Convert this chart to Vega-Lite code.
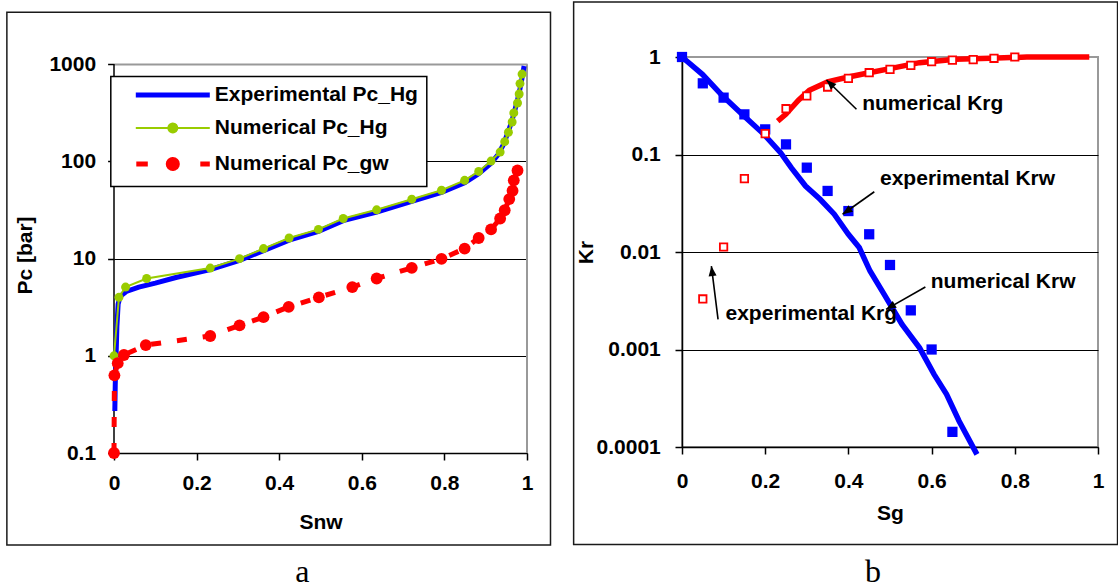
{
  "$schema": "https://vega.github.io/schema/vega-lite/v6.json",
  "background": "white",
  "padding": {"left": 6, "top": 0, "right": 0, "bottom": 0},
  "spacing": 19,
  "config": {
    "font": "Liberation Sans",
    "view": {"stroke": "#999999", "strokeWidth": 2},
    "axis": {
      "labelFont": "Liberation Sans", "labelFontSize": 21, "labelFontWeight": "bold", "labelColor": "#000000",
      "titleFont": "Liberation Sans", "titleFontSize": 21, "titleFontWeight": "bold", "titleColor": "#000000",
      "domainColor": "#000000", "domainWidth": 1.5, "tickColor": "#000000", "tickWidth": 1.5,
      "gridColor": "#000000", "gridWidth": 1, "gridOpacity": 1, "labelOverlap": false, "labelFlush": false
    }
  },
  "resolve": {"scale": {"color": "independent"}, "legend": {"color": "independent"}},
  "datasets": {
    "pc": [
      {"series": "Experimental Pc_Hg", "x": 0.002, "y": 0.27},
      {"series": "Experimental Pc_Hg", "x": 0.003, "y": 0.5},
      {"series": "Experimental Pc_Hg", "x": 0.005, "y": 1.0},
      {"series": "Experimental Pc_Hg", "x": 0.007, "y": 2.0},
      {"series": "Experimental Pc_Hg", "x": 0.01, "y": 3.4},
      {"series": "Experimental Pc_Hg", "x": 0.015, "y": 4.1},
      {"series": "Experimental Pc_Hg", "x": 0.03, "y": 4.6},
      {"series": "Experimental Pc_Hg", "x": 0.06, "y": 5.1},
      {"series": "Experimental Pc_Hg", "x": 0.1, "y": 5.6},
      {"series": "Experimental Pc_Hg", "x": 0.15, "y": 6.4},
      {"series": "Experimental Pc_Hg", "x": 0.233, "y": 7.7},
      {"series": "Experimental Pc_Hg", "x": 0.304, "y": 9.6},
      {"series": "Experimental Pc_Hg", "x": 0.362, "y": 12.1},
      {"series": "Experimental Pc_Hg", "x": 0.424, "y": 15.5},
      {"series": "Experimental Pc_Hg", "x": 0.495, "y": 19.1},
      {"series": "Experimental Pc_Hg", "x": 0.555, "y": 24.6},
      {"series": "Experimental Pc_Hg", "x": 0.636, "y": 30.2},
      {"series": "Experimental Pc_Hg", "x": 0.721, "y": 38.8},
      {"series": "Experimental Pc_Hg", "x": 0.793, "y": 48},
      {"series": "Experimental Pc_Hg", "x": 0.849, "y": 60.5},
      {"series": "Experimental Pc_Hg", "x": 0.883, "y": 75},
      {"series": "Experimental Pc_Hg", "x": 0.913, "y": 96},
      {"series": "Experimental Pc_Hg", "x": 0.93, "y": 118},
      {"series": "Experimental Pc_Hg", "x": 0.943, "y": 150},
      {"series": "Experimental Pc_Hg", "x": 0.953, "y": 195},
      {"series": "Experimental Pc_Hg", "x": 0.962, "y": 250},
      {"series": "Experimental Pc_Hg", "x": 0.97, "y": 330},
      {"series": "Experimental Pc_Hg", "x": 0.977, "y": 430},
      {"series": "Experimental Pc_Hg", "x": 0.983, "y": 560},
      {"series": "Experimental Pc_Hg", "x": 0.988, "y": 720},
      {"series": "Experimental Pc_Hg", "x": 0.993, "y": 960},
      {"series": "Numerical Pc_Hg", "x": 0, "y": 1.0},
      {"series": "Numerical Pc_Hg", "x": 0.012, "y": 4.0},
      {"series": "Numerical Pc_Hg", "x": 0.028, "y": 5.1},
      {"series": "Numerical Pc_Hg", "x": 0.079, "y": 6.25},
      {"series": "Numerical Pc_Hg", "x": 0.233, "y": 8.0},
      {"series": "Numerical Pc_Hg", "x": 0.304, "y": 10},
      {"series": "Numerical Pc_Hg", "x": 0.362, "y": 12.7},
      {"series": "Numerical Pc_Hg", "x": 0.424, "y": 16.3},
      {"series": "Numerical Pc_Hg", "x": 0.495, "y": 20},
      {"series": "Numerical Pc_Hg", "x": 0.555, "y": 25.9},
      {"series": "Numerical Pc_Hg", "x": 0.636, "y": 31.8},
      {"series": "Numerical Pc_Hg", "x": 0.721, "y": 40.9},
      {"series": "Numerical Pc_Hg", "x": 0.793, "y": 50.6},
      {"series": "Numerical Pc_Hg", "x": 0.849, "y": 64},
      {"series": "Numerical Pc_Hg", "x": 0.883, "y": 79},
      {"series": "Numerical Pc_Hg", "x": 0.913, "y": 101},
      {"series": "Numerical Pc_Hg", "x": 0.935, "y": 125},
      {"series": "Numerical Pc_Hg", "x": 0.946, "y": 160},
      {"series": "Numerical Pc_Hg", "x": 0.955, "y": 200},
      {"series": "Numerical Pc_Hg", "x": 0.964, "y": 255},
      {"series": "Numerical Pc_Hg", "x": 0.968, "y": 316},
      {"series": "Numerical Pc_Hg", "x": 0.977, "y": 400},
      {"series": "Numerical Pc_Hg", "x": 0.981, "y": 495},
      {"series": "Numerical Pc_Hg", "x": 0.983, "y": 633},
      {"series": "Numerical Pc_Hg", "x": 0.988, "y": 794},
      {"series": "Numerical Pc_gw", "x": 0, "y": 0.1},
      {"series": "Numerical Pc_gw", "x": 0.001, "y": 0.63},
      {"series": "Numerical Pc_gw", "x": 0.009, "y": 0.84},
      {"series": "Numerical Pc_gw", "x": 0.024, "y": 1.02},
      {"series": "Numerical Pc_gw", "x": 0.077, "y": 1.29},
      {"series": "Numerical Pc_gw", "x": 0.233, "y": 1.6},
      {"series": "Numerical Pc_gw", "x": 0.304, "y": 2.06},
      {"series": "Numerical Pc_gw", "x": 0.362, "y": 2.5},
      {"series": "Numerical Pc_gw", "x": 0.423, "y": 3.19},
      {"series": "Numerical Pc_gw", "x": 0.496, "y": 4.0},
      {"series": "Numerical Pc_gw", "x": 0.577, "y": 5.1},
      {"series": "Numerical Pc_gw", "x": 0.636, "y": 6.25},
      {"series": "Numerical Pc_gw", "x": 0.721, "y": 8.04},
      {"series": "Numerical Pc_gw", "x": 0.793, "y": 9.95},
      {"series": "Numerical Pc_gw", "x": 0.849, "y": 12.7},
      {"series": "Numerical Pc_gw", "x": 0.883, "y": 16.3},
      {"series": "Numerical Pc_gw", "x": 0.913, "y": 20},
      {"series": "Numerical Pc_gw", "x": 0.935, "y": 25.9},
      {"series": "Numerical Pc_gw", "x": 0.946, "y": 31.5},
      {"series": "Numerical Pc_gw", "x": 0.957, "y": 41},
      {"series": "Numerical Pc_gw", "x": 0.965, "y": 50},
      {"series": "Numerical Pc_gw", "x": 0.968, "y": 64},
      {"series": "Numerical Pc_gw", "x": 0.977, "y": 80.7}
    ],
    "kr": [
      {"series": "Experimental Krw", "x": 0, "y": 1},
      {"series": "Experimental Krw", "x": 0.05, "y": 0.537},
      {"series": "Experimental Krw", "x": 0.1, "y": 0.383},
      {"series": "Experimental Krw", "x": 0.15, "y": 0.258},
      {"series": "Experimental Krw", "x": 0.2, "y": 0.181},
      {"series": "Experimental Krw", "x": 0.25, "y": 0.127},
      {"series": "Experimental Krw", "x": 0.3, "y": 0.0733},
      {"series": "Experimental Krw", "x": 0.35, "y": 0.0423},
      {"series": "Experimental Krw", "x": 0.4, "y": 0.0263},
      {"series": "Experimental Krw", "x": 0.45, "y": 0.0152},
      {"series": "Experimental Krw", "x": 0.5, "y": 0.00736},
      {"series": "Experimental Krw", "x": 0.55, "y": 0.00252},
      {"series": "Experimental Krw", "x": 0.6, "y": 0.001},
      {"series": "Experimental Krw", "x": 0.65, "y": 0.000143},
      {"series": "Experimental Krg", "x": 0.05, "y": 0.0033},
      {"series": "Experimental Krg", "x": 0.1, "y": 0.01125},
      {"series": "Experimental Krg", "x": 0.15, "y": 0.0565},
      {"series": "Experimental Krg", "x": 0.2, "y": 0.1636},
      {"series": "Experimental Krg", "x": 0.25, "y": 0.295},
      {"series": "Experimental Krg", "x": 0.3, "y": 0.398},
      {"series": "Experimental Krg", "x": 0.35, "y": 0.492},
      {"series": "Experimental Krg", "x": 0.4, "y": 0.604},
      {"series": "Experimental Krg", "x": 0.45, "y": 0.69},
      {"series": "Experimental Krg", "x": 0.5, "y": 0.747},
      {"series": "Experimental Krg", "x": 0.55, "y": 0.82},
      {"series": "Experimental Krg", "x": 0.6, "y": 0.895},
      {"series": "Experimental Krg", "x": 0.65, "y": 0.93},
      {"series": "Experimental Krg", "x": 0.7, "y": 0.94},
      {"series": "Experimental Krg", "x": 0.75, "y": 0.97},
      {"series": "Experimental Krg", "x": 0.8, "y": 1.0},
      {"series": "Numerical Krw", "x": 0, "y": 1},
      {"series": "Numerical Krw", "x": 0.049, "y": 0.664},
      {"series": "Numerical Krw", "x": 0.098, "y": 0.398},
      {"series": "Numerical Krw", "x": 0.149, "y": 0.248},
      {"series": "Numerical Krw", "x": 0.197, "y": 0.161},
      {"series": "Numerical Krw", "x": 0.237, "y": 0.1045},
      {"series": "Numerical Krw", "x": 0.263, "y": 0.073},
      {"series": "Numerical Krw", "x": 0.297, "y": 0.0475},
      {"series": "Numerical Krw", "x": 0.332, "y": 0.0347},
      {"series": "Numerical Krw", "x": 0.366, "y": 0.0244},
      {"series": "Numerical Krw", "x": 0.4, "y": 0.0152},
      {"series": "Numerical Krw", "x": 0.426, "y": 0.0111},
      {"series": "Numerical Krw", "x": 0.452, "y": 0.00638},
      {"series": "Numerical Krw", "x": 0.486, "y": 0.00368},
      {"series": "Numerical Krw", "x": 0.529, "y": 0.00181},
      {"series": "Numerical Krw", "x": 0.571, "y": 0.00104},
      {"series": "Numerical Krw", "x": 0.606, "y": 0.000556},
      {"series": "Numerical Krw", "x": 0.636, "y": 0.000347},
      {"series": "Numerical Krw", "x": 0.666, "y": 0.000185},
      {"series": "Numerical Krw", "x": 0.709, "y": 0.0000841},
      {"series": "Numerical Krg", "x": 0.23, "y": 0.22},
      {"series": "Numerical Krg", "x": 0.25, "y": 0.26},
      {"series": "Numerical Krg", "x": 0.263, "y": 0.3},
      {"series": "Numerical Krg", "x": 0.28, "y": 0.36},
      {"series": "Numerical Krg", "x": 0.306, "y": 0.455},
      {"series": "Numerical Krg", "x": 0.35, "y": 0.555},
      {"series": "Numerical Krg", "x": 0.4, "y": 0.624},
      {"series": "Numerical Krg", "x": 0.45, "y": 0.69},
      {"series": "Numerical Krg", "x": 0.5, "y": 0.76},
      {"series": "Numerical Krg", "x": 0.571, "y": 0.875},
      {"series": "Numerical Krg", "x": 0.657, "y": 0.946},
      {"series": "Numerical Krg", "x": 0.74, "y": 0.97},
      {"series": "Numerical Krg", "x": 0.829, "y": 1.0},
      {"series": "Numerical Krg", "x": 0.979, "y": 1.0}
    ],
    "notes": [
      {"label": "numerical Krg", "tx": 0.433, "ty": 0.286, "x1": 0.4194, "y1": 0.291, "x2": 0.3473, "y2": 0.581, "ang": 314},
      {"label": "experimental Krw", "tx": 0.476, "ty": 0.049, "x1": 0.4623, "y1": 0.0415, "x2": 0.386, "y2": 0.0244, "ang": 235},
      {"label": "numerical Krw", "tx": 0.598, "ty": 0.00424, "x1": 0.585, "y1": 0.00438, "x2": 0.4906, "y2": 0.00258, "ang": 240},
      {"label": "experimental Krg", "tx": 0.1046, "ty": 0.002, "x1": 0.0867, "y1": 0.00204, "x2": 0.0706, "y2": 0.00718, "ang": 353}
    ]
  },
  "hconcat": [
    {
      "width": 413,
      "height": 396,
      "view": {"stroke": null},
      "layer": [
        {
          "data": {"values": [{}]},
          "mark": {"type": "rect", "filled": false, "stroke": "#1a1a1a", "strokeWidth": 1.5, "clip": false},
          "encoding": {
            "x": {"datum": -0.2594, "type": "quantitative"},
            "x2": {"datum": 1.0569},
            "y": {"datum": 3425, "type": "quantitative"},
            "y2": {"datum": 0.01132}
          }
        },
        {
          "data": {"values": [{}]},
          "mark": {"type": "rule", "color": "#999999", "strokeWidth": 2},
          "encoding": {
            "x": {"datum": 1, "type": "quantitative"},
            "y": {"datum": 0.1, "type": "quantitative"},
            "y2": {"datum": 1000}
          }
        },
        {
          "data": {"values": [{}]},
          "mark": {"type": "rule", "color": "#000000", "strokeWidth": 1.5},
          "encoding": {
            "x": {"datum": 0, "type": "quantitative"},
            "y": {"datum": 0.1, "type": "quantitative"},
            "y2": {"datum": 1000}
          }
        },
        {
          "data": {"values": [{}]},
          "mark": {"type": "text", "text": "a", "font": "Liberation Serif", "fontSize": 32, "align": "center", "baseline": "alphabetic", "color": "#000000"},
          "encoding": {
            "x": {"datum": 0.456, "type": "quantitative"},
            "y": {"datum": 0.00466, "type": "quantitative"}
          }
        },
        {
          "data": {"name": "pc"},
          "transform": [{"filter": "datum.series === 'Experimental Pc_Hg'"}],
          "mark": {"type": "line", "strokeWidth": 5},
          "encoding": {
            "x": {"field": "x", "type": "quantitative", "scale": {"domain": [0, 1], "nice": false},
                  "axis": {"values": [0, 0.2, 0.4, 0.6, 0.8, 1], "format": "~g", "title": "Snw", "grid": false, "tickSize": 7, "labelPadding": 12, "titlePadding": 18}},
            "y": {"field": "y", "type": "quantitative", "scale": {"type": "log", "domain": [0.1, 1189], "nice": false},
                  "axis": {"values": [0.1, 1, 10, 100, 1000], "format": "~g", "title": "Pc [bar]", "grid": true, "domain": false, "tickSize": 6.4, "labelPadding": 12, "titlePadding": 13,
                           "gridColor": {"condition": {"test": "datum.value >= 999", "value": "#999999"}, "value": "#000000"},
                           "gridWidth": {"condition": {"test": "datum.value >= 999", "value": 2}, "value": 1}}},
            "color": {
              "field": "series", "type": "nominal",
              "scale": {"domain": ["Experimental Pc_Hg", "Numerical Pc_Hg", "Numerical Pc_gw"], "range": ["#0000ff", "#99cc00", "#ff0000"]},
              "legend": {
                "title": null, "orient": "none", "legendX": -3.2, "legendY": 19.5,
                "padding": 8, "rowPadding": 11, "strokeColor": "#000000", "fillColor": "#ffffff",
                "labelFont": "Liberation Sans", "labelFontSize": 21, "labelFontWeight": "bold", "labelColor": "#000000",
                "labelLimit": 500, "labelOffset": 31.5, "symbolOffset": 43.5, "symbolSize": 100,
                "labelExpr": "datum.label + '\u2002'",
                "encode": {
                  "legend": {"update": {"strokeWidth": {"value": 1.5}}},
                  "symbols": {"update": {
                    "shape": {"signal": "datum.value === 'Experimental Pc_Hg' ? 'M-7.4,0H7.4' : datum.value === 'Numerical Pc_Hg' ? 'M-7.4,0H7.4M0.9,0L0.831,0.344L0.636,0.636L0.344,0.831L0,0.9L-0.344,0.831L-0.636,0.636L-0.831,0.344L-0.9,0L-0.831,-0.344L-0.636,-0.636L-0.344,-0.831L0,-0.9L0.344,-0.831L0.636,-0.636L0.831,-0.344Z' : 'M-7.3,0H-5M5.5,0H7.4M0.9,0L0.831,0.344L0.636,0.636L0.344,0.831L0,0.9L-0.344,0.831L-0.636,0.636L-0.831,0.344L-0.9,0L-0.831,-0.344L-0.636,-0.636L-0.344,-0.831L0,-0.9L0.344,-0.831L0.636,-0.636L0.831,-0.344Z'"},
                    "stroke": {"signal": "datum.value === 'Experimental Pc_Hg' ? '#0000ff' : datum.value === 'Numerical Pc_Hg' ? '#99cc00' : '#ff0000'"},
                    "fill": {"signal": "datum.value === 'Experimental Pc_Hg' ? 'transparent' : datum.value === 'Numerical Pc_Hg' ? '#99cc00' : '#ff0000'"},
                    "strokeWidth": {"signal": "datum.value === 'Numerical Pc_Hg' ? 2 : 5"},
                    "strokeDash": {"value": [1, 0]},
                    "size": {"value": 100},
                    "opacity": {"value": 1}
                  }}
                }
              }
            }
          }
        },
        {
          "data": {"name": "pc"},
          "transform": [{"filter": "datum.series === 'Numerical Pc_Hg'"}],
          "mark": {"type": "line", "strokeWidth": 2, "point": {"filled": true, "size": 80}},
          "encoding": {
            "x": {"field": "x", "type": "quantitative"},
            "y": {"field": "y", "type": "quantitative"},
            "color": {"field": "series", "type": "nominal"}
          }
        },
        {
          "data": {"name": "pc"},
          "transform": [{"filter": "datum.series === 'Numerical Pc_gw'"}],
          "mark": {"type": "line", "strokeWidth": 5, "strokeDash": [10, 16], "point": {"filled": true, "size": 140}},
          "encoding": {
            "x": {"field": "x", "type": "quantitative"},
            "y": {"field": "y", "type": "quantitative"},
            "color": {"field": "series", "type": "nominal"}
          }
        }
      ]
    },
    {
      "width": 416,
      "height": 390,
      "layer": [
        {
          "data": {"values": [{}]},
          "mark": {"type": "rect", "filled": false, "stroke": "#1a1a1a", "strokeWidth": 1.5, "clip": false},
          "encoding": {
            "x": {"datum": -0.2605, "type": "quantitative"},
            "x2": {"datum": 1.047},
            "y": {"datum": 3.66, "type": "quantitative"},
            "y2": {"datum": 0.00001}
          }
        },
        {
          "data": {"values": [{}]},
          "mark": {"type": "text", "text": "b", "font": "Liberation Serif", "fontSize": 32, "align": "center", "baseline": "alphabetic", "color": "#000000"},
          "encoding": {
            "x": {"datum": 0.459, "type": "quantitative"},
            "y": {"datum": 0.00000412, "type": "quantitative"}
          }
        },
        {
          "data": {"name": "kr"},
          "transform": [{"filter": "datum.series === 'Numerical Krw'"}],
          "mark": {"type": "line", "strokeWidth": 5.5, "color": "#0000ff"},
          "encoding": {
            "x": {"field": "x", "type": "quantitative", "scale": {"domain": [0, 1], "nice": false},
                  "axis": {"values": [0, 0.2, 0.4, 0.6, 0.8, 1], "format": "~g", "title": "Sg", "grid": false, "tickSize": 7, "labelPadding": 16, "titlePadding": 11}},
            "y": {"field": "y", "type": "quantitative", "scale": {"type": "log", "domain": [0.0001, 1], "nice": false},
                  "axis": {"values": [0.0001, 0.001, 0.01, 0.1, 1], "format": "~g", "title": "Kr", "grid": true, "tickSize": 7, "labelPadding": 14.7, "titlePadding": 0,
                           "gridColor": {"condition": {"test": "datum.value >= 0.99", "value": "#999999"}, "value": "#000000"}}}
          }
        },
        {
          "data": {"name": "kr"},
          "transform": [{"filter": "datum.series === 'Numerical Krg'"}],
          "mark": {"type": "line", "strokeWidth": 5.5, "color": "#ff0000"},
          "encoding": {
            "x": {"field": "x", "type": "quantitative"},
            "y": {"field": "y", "type": "quantitative"}
          }
        },
        {
          "data": {"name": "kr"},
          "transform": [{"filter": "datum.series === 'Experimental Krw'"}],
          "mark": {"type": "point", "shape": "square", "filled": true, "color": "#0000ff", "size": 105, "opacity": 1},
          "encoding": {
            "x": {"field": "x", "type": "quantitative"},
            "y": {"field": "y", "type": "quantitative"}
          }
        },
        {
          "data": {"name": "kr"},
          "transform": [{"filter": "datum.series === 'Experimental Krg'"}],
          "mark": {"type": "point", "shape": "square", "filled": true, "fill": "#ffffff", "stroke": "#ff0000", "strokeWidth": 1.8, "size": 55, "opacity": 1},
          "encoding": {
            "x": {"field": "x", "type": "quantitative"},
            "y": {"field": "y", "type": "quantitative"}
          }
        },
        {
          "data": {"name": "notes"},
          "mark": {"type": "rule", "color": "#000000", "strokeWidth": 1.6},
          "encoding": {
            "x": {"field": "x1", "type": "quantitative"},
            "y": {"field": "y1", "type": "quantitative"},
            "x2": {"field": "x2"},
            "y2": {"field": "y2"}
          }
        },
        {
          "data": {"name": "notes"},
          "mark": {"type": "point", "shape": "M0,0L-0.8,2L0.8,2Z", "filled": true, "color": "#000000", "size": 100, "opacity": 1},
          "encoding": {
            "x": {"field": "x2", "type": "quantitative"},
            "y": {"field": "y2", "type": "quantitative"},
            "angle": {"field": "ang", "type": "quantitative", "scale": null}
          }
        },
        {
          "data": {"name": "notes"},
          "mark": {"type": "text", "align": "left", "baseline": "alphabetic", "font": "Liberation Sans", "fontWeight": "bold", "fontSize": 21, "color": "#000000"},
          "encoding": {
            "x": {"field": "tx", "type": "quantitative"},
            "y": {"field": "ty", "type": "quantitative"},
            "text": {"field": "label"}
          }
        }
      ]
    }
  ]
}
